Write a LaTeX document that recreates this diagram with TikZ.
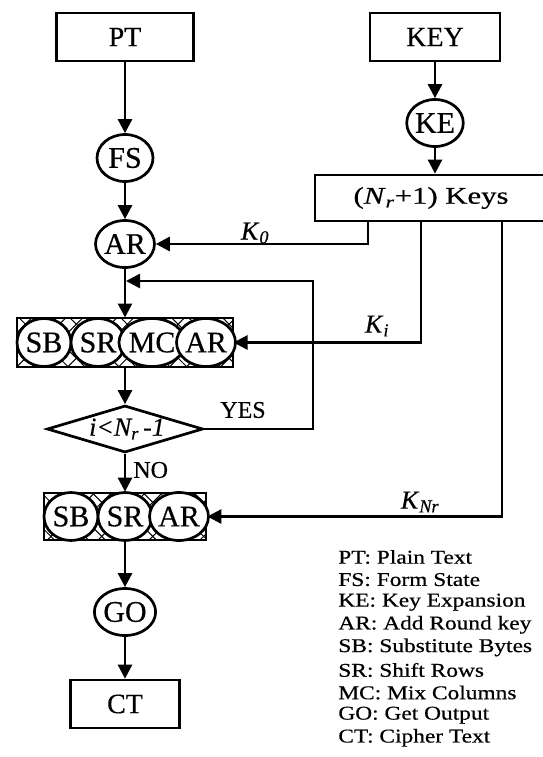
\documentclass[tikz,border=0pt]{standalone}
\usepackage{fontspec}
\setmainfont{Liberation Serif}[FakeBold=0.45]
\usetikzlibrary{arrows.meta,shapes.geometric,patterns.meta}
\begin{document}
\begin{tikzpicture}[x=1pt,y=-1pt,line width=2.7pt,
  arr/.style={-{Triangle[length=14pt,width=14pt]}},
  rbox/.style={draw,minimum width=#1,minimum height=48pt,inner sep=0pt,font=\fontsize{28}{30}\selectfont},
  circ/.style={draw,fill=white,ellipse,minimum width=56pt,minimum height=47pt,inner sep=0pt,font=\fontsize{30}{32}\selectfont},
  icirc/.style={draw,fill=white,ellipse,minimum width=54pt,minimum height=48pt,inner sep=0pt,font=\fontsize{30}{32}\selectfont},
  hbox/.style={draw,minimum height=#1,inner sep=0pt,
     pattern={Lines[angle=45,distance=12pt,line width=1pt]},
     postaction={pattern={Lines[angle=-45,distance=12pt,line width=1pt]}}},
  lbl/.style={font=\fontsize{24}{26}\selectfont,inner sep=0pt},
  leg/.style={anchor=west,inner sep=0pt,font=\fontsize{19.5}{22}\selectfont}
]
\useasboundingbox (0,0) rectangle (542,757);

% top row
\node[rbox=137pt] (pt) at (125,37) {PT};
\node[rbox=130pt] (key) at (435,37) {KEY};
\node[circ] (fs) at (125,158) {FS};
\node[circ] (ke) at (435,123) {KE};
\node[draw,minimum width=232pt,minimum height=46pt,inner sep=0pt] (keys) at (431,198)
  {\fontsize{24}{26}\selectfont\scalebox{1.28}[1]{(\textit{N}\textsubscript{\textit{r}}+1) Keys}};
\node[circ] (ar0) at (125,244) {AR};

% round box
\node[hbox=49pt,minimum width=216pt] (r1) at (125,342.5) {};
\node[icirc] (sb1) at (44,342.5) {SB};
\node[icirc] (sr1) at (98,342.5) {SR};
\node[icirc] (mc1) at (152,342.5) {MC};
\node[icirc] (ar1) at (206,342.5) {AR};

% decision
\node[draw,diamond,minimum width=156pt,minimum height=47pt,inner sep=0pt,
  label={[lbl,font=\fontsize{26}{28}\selectfont,xshift=2pt]center:\itshape i<N\textsubscript{r}\,-1}] (dec) at (125,429) {};

% final round box
\node[hbox=47pt,minimum width=162pt] (r2) at (125,516.5) {};
\node[icirc] (sb2) at (71,516.5) {SB};
\node[icirc] (sr2) at (125,516.5) {SR};
\node[icirc] (ar2) at (179,516.5) {AR};

\node[circ] (go) at (125,612) {GO};
\node[rbox=109pt] (ct) at (125,704) {CT};

% key tap points and loop corner
\coordinate (k0s) at (368,221);
\coordinate (kis) at (421,221);
\coordinate (knrs) at (502,221);
\coordinate (lp) at (313,281);

% connectors
\draw[arr] (pt) -- (fs);
\draw[arr] (key) -- (ke);
\draw[arr] (ke) -- (keys.north -| ke);
\draw[arr] (fs) -- (ar0);
\draw[arr] (ar0) -- (r1);
\draw[arr] (k0s) |- (ar0);
\draw[arr] (kis) |- (r1.east);
\draw[arr] (knrs) |- (r2.east);
\draw[arr] (r1) -- (dec);
\draw[arr,shorten >=1pt] (dec.east) -| (lp) -- (lp -| ar0);
\draw[arr] (dec) -- (r2);
\draw[arr] (r2) -- (go);
\draw[arr] (go) -- (ct);

% labels
\node[lbl,font=\fontsize{26}{28}\selectfont] (lk0) at (255,233) {\textit{K}\textsubscript{\textit{0}}};
\node[lbl,font=\fontsize{26}{28}\selectfont] (lki) at (377,326) {\textit{K}\textsubscript{\textit{i}}};
\node[lbl,font=\fontsize{26}{28}\selectfont] (lknr) at (420,502) {\textit{K}\textsubscript{\textit{Nr}}};
\node[lbl] (yes) at (243,410) {YES};
\node[lbl,anchor=west] (no) at (132,470) {NO};

% legend
\node[leg] (l1) at (337,557) {\scalebox{1.2}[1]{PT: Plain Text}};
\node[leg] (l2) at (337,579.6) {\scalebox{1.2}[1]{FS: Form State}};
\node[leg] (l3) at (337,602.2) {\scalebox{1.2}[1]{KE: Key Expansion}};
\node[leg] (l4) at (337,624.8) {\scalebox{1.2}[1]{AR: Add Round key}};
\node[leg] (l5) at (337,647.4) {\scalebox{1.2}[1]{SB: Substitute Bytes}};
\node[leg] (l6) at (337,670) {\scalebox{1.2}[1]{SR: Shift Rows}};
\node[leg] (l7) at (337,692.6) {\scalebox{1.2}[1]{MC: Mix Columns}};
\node[leg] (l8) at (337,715.2) {\scalebox{1.2}[1]{GO: Get Output}};
\node[leg] (l9) at (337,737.8) {\scalebox{1.2}[1]{CT: Cipher Text}};
\end{tikzpicture}
\end{document}
